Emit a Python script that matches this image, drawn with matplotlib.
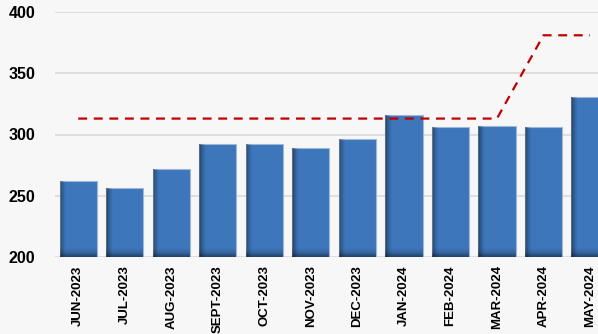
import numpy as np
import matplotlib
matplotlib.use("Agg")
import matplotlib.pyplot as plt

months = ["JUN-2023", "JUL-2023", "AUG-2023", "SEPT-2023", "OCT-2023", "NOV-2023",
          "DEC-2023", "JAN-2024", "FEB-2024", "MAR-2024", "APR-2024", "MAY-2024"]
values = [262, 256, 272, 292, 292, 289, 296, 316, 306, 307, 306, 331]
target = [313, 313, 313, 313, 313, 313, 313, 313, 313, 313, 381, 381]

plt.rcParams['font.family'] = ['Liberation Sans', 'DejaVu Sans']

fig = plt.figure(figsize=(5.98, 3.34), dpi=100)
fig.patch.set_facecolor('#f7f7f7')
ax = fig.add_axes([55 / 598, 1 - 257 / 334, 1 - 55 / 598, 245 / 334])
ax.set_facecolor('#f7f7f7')

x = np.arange(len(months))
width = 0.8
heights = np.array(values) - 200

ax.bar(x, heights, bottom=200, width=width, color='#3d76ba', edgecolor='#9db8da',
       linewidth=0.8, zorder=2)

# shading strips: dark towards left edge and bottom
n = 10
sw = width * 0.18 / n
for k in range(n):
    a = 0.42 * (1 - k / n) ** 1.5
    ax.bar(x - width / 2 + k * sw, heights, bottom=200, width=sw, align='edge',
           color='black', alpha=a, linewidth=0, zorder=3)
sh = 7.0 / n
for k in range(n):
    a = 0.42 * (1 - k / n) ** 1.5
    ax.bar(x, sh, bottom=200 + k * sh, width=width, color='black', alpha=a,
           linewidth=0, zorder=3)

ax.plot(x, target, color='#c00000', linestyle=(0, (4, 3)), linewidth=1.6, zorder=4)

ax.set_xlim(-0.5, (598 - 78.5) / 46.5)
ax.set_ylim(200, 400)
ax.set_yticks([200, 250, 300, 350, 400])
ax.set_xticks(x)
ax.set_xticklabels(months, rotation=90, fontsize=9.5, fontweight='bold')
ax.tick_params(axis='y', labelsize=11.5, length=0, pad=14)
ax.tick_params(axis='x', length=0, pad=6)
for lbl in ax.get_yticklabels():
    lbl.set_fontweight('bold')
ax.grid(axis='y', color='#d9d9d9', linewidth=1.2, zorder=0)
ax.set_axisbelow(True)
for s in ax.spines.values():
    s.set_visible(False)

fig.savefig('out.png', dpi=100, facecolor=fig.get_facecolor())
